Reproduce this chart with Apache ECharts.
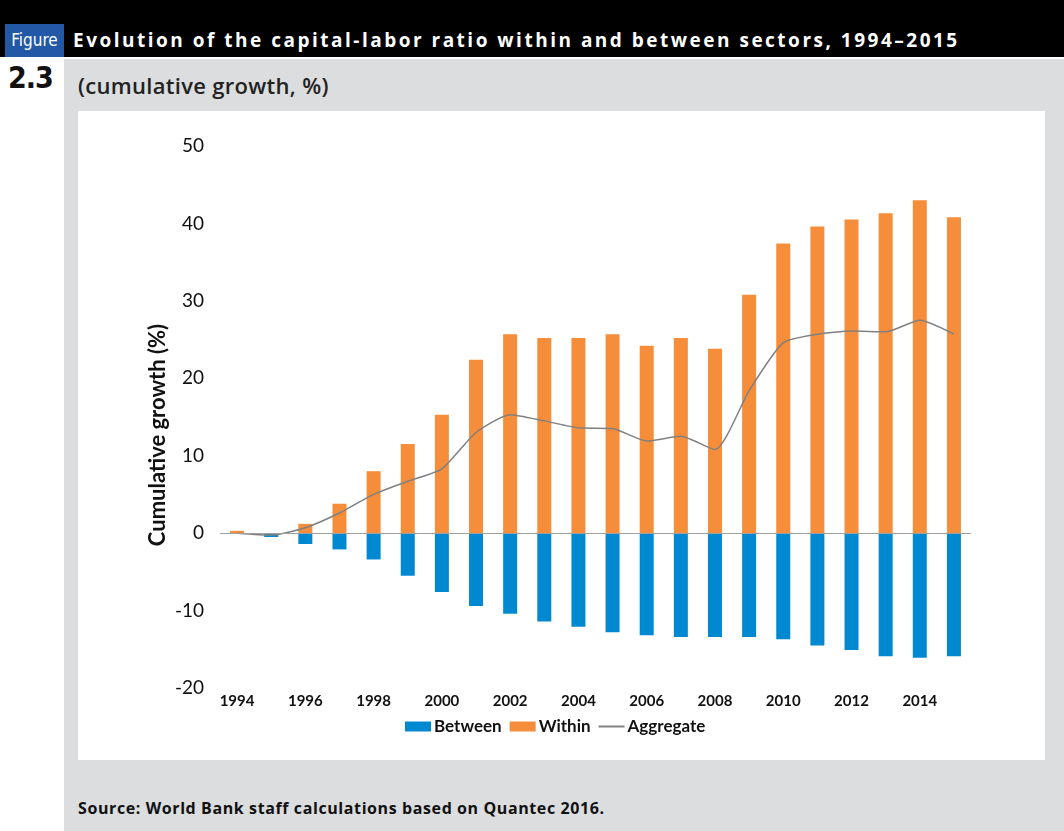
<!DOCTYPE html>
<html>
<head>
<meta charset="utf-8">
<script src="https://cdn.jsdelivr.net/npm/echarts@6/dist/echarts.min.js"></script>
<style>
  body { margin:0; width:1064px; height:831px; background:#fff; position:relative; overflow:hidden; font-family:Lato, "Open Sans", sans-serif; }
  #bar { position:absolute; left:0; top:0; width:1064px; height:57px; background:#000; }
  #fig { position:absolute; left:5px; top:24px; width:59px; height:33px; background:#2358a6; color:#fff;
         font-family:"Liberation Sans Narrow","DejaVu Sans Condensed",sans-serif; font-size:17px; line-height:33px; text-align:center; }
  #ttl { position:absolute; left:73px; top:24px; height:33px; line-height:33px; color:#fff; font-family:"Open Sans",sans-serif; font-weight:bold; font-size:19px; letter-spacing:2.5px; white-space:nowrap; }
  #num { position:absolute; left:8px; top:60px; font-family:"Liberation Sans Narrow","DejaVu Sans Condensed",sans-serif; font-weight:bold; font-size:30px; letter-spacing:-1px; color:#111; }
  #panel { position:absolute; left:64px; top:59px; width:1000px; height:772px; background:#dcdddf; }
  #sub { position:absolute; left:78px; top:70px; font-family:"Open Sans",sans-serif; font-size:22px; font-weight:600; letter-spacing:0.3px; color:#222; }
  #box { position:absolute; left:78px; top:111px; width:967px; height:649px; background:#fff; }
  #src { position:absolute; left:78px; top:797px; font-family:"Open Sans",sans-serif; font-size:16px; font-weight:bold; letter-spacing:0.6px; color:#111; }
</style>
</head>
<body>
<div id="bar"></div>
<div id="fig">Figure</div>
<div id="ttl">Evolution of the capital-labor ratio within and between sectors, 1994–2015</div>
<div id="panel"></div>
<div id="num">2.3</div>
<div id="sub">(cumulative growth, %)</div>
<div id="box"></div>
<div id="src">Source: World Bank staff calculations based on Quantec 2016.</div>

<script type="text/javascript">
// 年份
var years = ['1994','1995','1996','1997','1998','1999','2000','2001','2002','2003','2004',
             '2005','2006','2007','2008','2009','2010','2011','2012','2013','2014','2015'];
// 部门间贡献
var between = [0, -0.5, -1.4, -2.1, -3.4, -5.5, -7.6, -9.4, -10.4, -11.4, -12.1,
               -12.8, -13.2, -13.4, -13.4, -13.4, -13.7, -14.5, -15.1, -15.9, -16.1, -15.9];
// 部门内贡献
var within = [0.3, 0, 1.2, 3.8, 8.0, 11.5, 15.3, 22.4, 25.7, 25.2, 25.2,
              25.7, 24.2, 25.2, 23.8, 30.8, 37.4, 39.6, 40.5, 41.3, 43.0, 40.8];
// 总体
var aggregate = [0, -0.25, 0.7, 2.6, 5.0, 6.7, 8.3, 13.0, 15.3, 14.5, 13.6,
                 13.5, 11.9, 12.5, 10.8, 18.4, 24.6, 25.7, 26.1, 26.0, 27.5, 25.7];
// y轴刻度
var yMin = -20, yMax = 50, yStep = 10;

var myChart = echarts.init(document.getElementById('box'));

var option = {
    animation: false,
    textStyle: { fontFamily: 'Lato' },
    grid: { left: 142, right: 74, top: 35, bottom: 72 },
    legend: {
        left: 322, top: 602,
        itemWidth: 26, itemHeight: 10, itemGap: 8,
        textStyle: { fontSize: 17, fontWeight: 'bold', color: '#111', padding: [0, 0, 0, -2] },
        data: [
            { name: 'Between', icon: 'rect' },
            { name: 'Within', icon: 'rect' },
            { name: 'Aggregate', icon: 'path://M0,0L26,0L26,2L0,2Z' }
        ]
    },
    xAxis: {
        type: 'category',
        data: years,
        axisLine: { show: false },
        axisTick: { show: false },
        axisLabel: { interval: 1, fontSize: 15, fontWeight: 'bold', color: '#111', margin: 6 }
    },
    yAxis: {
        type: 'value',
        min: yMin, max: yMax, interval: yStep,
        splitLine: { show: false },
        axisLine: { show: false },
        axisTick: { show: false },
        axisLabel: { fontSize: 19, color: '#111', margin: 16 },
        name: 'Cumulative growth (%)',
        nameLocation: 'middle',
        nameMoveOverlap: false,
        nameGap: 51,
        nameTextStyle: { fontSize: 22, fontWeight: 'bold', color: '#111', padding: [0, 36, 0, 0] }
    },
    series: [
        {
            name: 'Between', type: 'bar', stack: 'g', barWidth: 14,
            itemStyle: { color: '#0088d0' },
            data: between,
            markLine: {
                silent: true, symbol: 'none', label: { show: false },
                lineStyle: { color: '#a0a0a0', width: 1, type: 'solid' },
                data: [{ yAxis: 0 }]
            }
        },
        {
            name: 'Within', type: 'bar', stack: 'g', barWidth: 14,
            itemStyle: { color: '#f58d3a' },
            data: within
        },
        {
            name: 'Aggregate', type: 'line', smooth: 0.2,
            symbol: 'none',
            lineStyle: { color: '#808080', width: 1.5 },
            itemStyle: { color: '#808080' },
            data: aggregate
        }
    ]
};

myChart.setOption(option);
</script>
</body>
</html>
